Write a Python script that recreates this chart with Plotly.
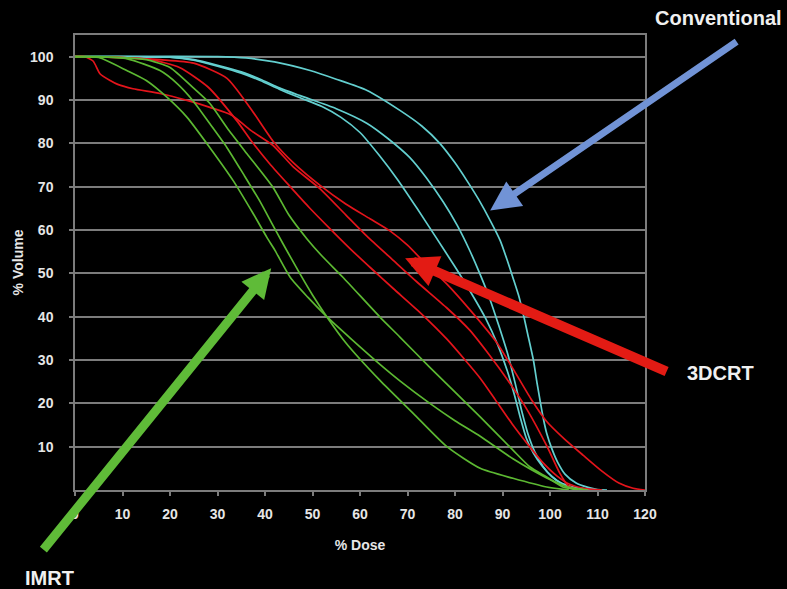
import plotly.graph_objects as go

# ---------------- data ----------------
x_ticks = [0, 10, 20, 30, 40, 50, 60, 70, 80, 90, 100, 110, 120]
y_ticks = [10, 20, 30, 40, 50, 60, 70, 80, 90, 100]

# Conventional (cyan)
conv1_dose = [0, 30, 36, 42, 49.5, 55, 61.5, 68.4, 73, 76.8, 80, 82.5, 85, 87.5, 89.5, 91, 92.2, 93.5, 94.5, 95.3, 96.5, 97.3, 97.9, 98.6, 99.3, 100.5, 101.7, 103.2, 105.5, 108, 110, 112]
conv1_vol = [100, 100, 99.7, 98.8, 96.8, 94.8, 92.2, 87.6, 84, 80, 75.5, 71.4, 67, 62, 57.6, 53, 49, 44.5, 40, 36, 30, 24.5, 20.7, 16.5, 13.1, 9.2, 6.2, 3.6, 1.6, 0.6, 0.1, 0]
conv2_dose = [0, 20, 25, 30, 35, 39, 43, 47.4, 55, 61.5, 66, 70.5, 74, 77.5, 80.5, 83, 85.2, 87.2, 89.2, 91.2, 92.7, 94.1, 95.4, 96.8, 98.5, 100.5, 102.5, 105, 108.4, 110]
conv2_vol = [100, 99.9, 99.3, 98, 96.5, 94.8, 92.8, 91, 88, 84.6, 81, 76.7, 72, 66.5, 61, 55.5, 50, 44.5, 38, 31, 24.5, 18, 12.8, 8.8, 5.5, 3, 1.5, 0.6, 0.1, 0]
conv3_dose = [0, 20, 25, 30, 35, 39, 43, 47.4, 52, 56, 60, 64, 68, 72, 76, 80, 83.5, 86.5, 89, 91, 92.5, 93.8, 95, 96.5, 98.3, 100.3, 102.3, 105, 108.4, 110]
conv3_vol = [100, 99.9, 99.2, 97.8, 96.2, 94.5, 92.5, 90.5, 88.5, 86, 82.5, 77.3, 71.5, 65, 58.3, 51.5, 45.3, 39.5, 33.5, 27.5, 22, 16.5, 12, 8.5, 5.6, 3.2, 1.6, 0.6, 0.1, 0]

# 3DCRT (red)
crt1_dose = [0, 10, 16, 22, 28, 34, 37.5, 41.2, 45.3, 49.3, 53.5, 58, 62.5, 67, 72.6, 78.3, 85.3, 88.5, 92, 95.5, 98.5, 101.5, 104, 107, 111]
crt1_vol = [100, 99.8, 99.3, 97.5, 93, 85.3, 80, 75, 70, 65.2, 60.5, 55.6, 51, 46.5, 41, 34.8, 25.8, 20.8, 15.3, 10.3, 6.3, 3.2, 1.4, 0.4, 0]
crt2_dose = [0, 10, 18, 25, 32, 37, 41.7, 46, 51.6, 57, 62.1, 66.3, 70, 74, 78.3, 83.2, 88.8, 92.2, 96, 99.3, 103, 107, 111, 114.5, 117.5, 120]
crt2_vol = [100, 99.8, 99.3, 98.5, 95, 88, 80.5, 75.5, 70.3, 66, 62.6, 59.8, 56.5, 52, 47.5, 41.5, 34, 28, 21, 15.8, 11.8, 8, 4.3, 1.6, 0.4, 0]
crt3_dose = [0, 2, 3.8, 5.3, 7.4, 9, 12.2, 17.9, 23.6, 28.4, 33, 37, 41.7, 46, 51.6, 57, 62, 67, 72, 78.3, 83, 87, 91, 95.2, 99.4, 102, 103.8, 106]
crt3_vol = [100, 100, 99, 96, 94.5, 93.6, 92.6, 91.5, 89.9, 88.3, 86.5, 83, 79.5, 74.5, 69.5, 63.5, 58, 53, 48, 42, 37, 31.5, 25.5, 18.5, 10, 4, 1, 0]

# IMRT (green)
imrt1_dose = [0, 5, 10.9, 15, 19.4, 23.6, 28.4, 33.3, 37.5, 40.4, 42.1, 45.3, 49, 53, 58, 64.2, 68.4, 74.7, 80, 85.3, 92.2, 99.3, 104, 108]
imrt1_vol = [100, 99.8, 96.8, 94.5, 90.6, 86, 79, 71.4, 63.8, 58.3, 55.3, 49.1, 44.5, 40, 35, 29, 25.2, 20, 16, 12.4, 7.2, 2.8, 0.6, 0]
imrt2_dose = [0, 5, 11, 17.9, 21.5, 24.8, 28.4, 32, 35.4, 39, 41.7, 43.7, 47.4, 50, 53, 57, 64.2, 71.2, 78.3, 85.3, 92.2, 99.3, 104]
imrt2_vol = [100, 100, 99.5, 96.8, 93.8, 89.9, 84.5, 79, 73, 66.5, 61, 57, 49.8, 45, 40, 34, 25.3, 17.7, 10, 5, 2.7, 0.7, 0]
imrt3_dose = [0, 10, 15, 20, 24.8, 28.4, 32, 36.2, 41.7, 45, 48.8, 52, 56.4, 64.2, 68.4, 74.7, 85.3, 92.2, 95.8, 99.3, 102.7, 106]
imrt3_vol = [100, 99.8, 99.3, 97.5, 92.9, 89.2, 83.6, 77.6, 69.8, 63.5, 58, 54, 49.1, 39.9, 35.3, 28.3, 16.9, 9.2, 5.3, 3, 0.7, 0]

CYAN = "#63cfcf"
RED = "#e3141b"
GREEN = "#5cb832"

fig = go.Figure()
series = [
    (conv1_dose, conv1_vol, CYAN), (conv2_dose, conv2_vol, CYAN), (conv3_dose, conv3_vol, CYAN),
    (crt1_dose, crt1_vol, RED), (crt2_dose, crt2_vol, RED), (crt3_dose, crt3_vol, RED),
    (imrt1_dose, imrt1_vol, GREEN), (imrt2_dose, imrt2_vol, GREEN), (imrt3_dose, imrt3_vol, GREEN),
]
for xs, ys, col in series:
    fig.add_trace(go.Scatter(x=xs, y=ys, mode="lines",
                             line=dict(color=col, width=1.7, shape="spline", smoothing=0.6),
                             showlegend=False, hoverinfo="skip"))

FONT = "Liberation Sans, Arial, sans-serif"
TXT = "#e6e6e6"
GRID = "#7c7c7c"

L, R, T, B = 75, 142, 35, 99
W, H = 787, 589
PW, PH = W - L - R, H - T - B


def px_to_paper(px, py):
    return (px - L) / PW, (H - B - py) / PH


fig.update_layout(
    width=W, height=H,
    paper_bgcolor="#000000", plot_bgcolor="#000000",
    margin=dict(l=L, r=R, t=T, b=B),
    font=dict(family=FONT, color=TXT, size=14),
    showlegend=False,
    xaxis=dict(range=[0, 120], tickvals=x_ticks, ticktext=[str(v) for v in x_ticks],
               showgrid=False, zeroline=False, showline=True, linecolor=GRID, linewidth=1.5,
               mirror=True, ticks="outside", ticklen=4, tickcolor=GRID, tickwidth=1.5,
               tickfont=dict(family=FONT, size=14, color=TXT, weight="bold"),
               ticklabelstandoff=6,
               title=dict(text="<b>% Dose</b>", font=dict(size=14, color=TXT), standoff=20)),
    yaxis=dict(range=[0, 105], tickvals=y_ticks, ticktext=[str(v) for v in y_ticks],
               showgrid=True, gridcolor=GRID, gridwidth=1.5, zeroline=False,
               showline=True, linecolor=GRID, linewidth=1.5, mirror=True,
               ticks="outside", ticklen=4, tickcolor=GRID, tickwidth=1.5,
               tickfont=dict(family=FONT, size=14, color=TXT, weight="bold"),
               ticklabelstandoff=13,
               title=dict(text="<b>% Volume</b>", font=dict(size=14, color=TXT), standoff=3)),
)

# arrows (tip in data coords, tail as pixel offset)
fig.add_annotation(x=87.4, y=64.5, xref="x", yref="y", ax=248, ay=-170, axref="pixel", ayref="pixel",
                   text="", showarrow=True, arrowhead=2, arrowsize=0.85, arrowwidth=7, arrowcolor="#7193d6")
fig.add_annotation(x=69.5, y=53.5, xref="x", yref="y", ax=263, ay=114, axref="pixel", ayref="pixel",
                   text="", showarrow=True, arrowhead=2, arrowsize=0.65, arrowwidth=10, arrowcolor="#e31b14")
fig.add_annotation(x=41.3, y=51.2, xref="x", yref="y", ax=-229, ay=283, axref="pixel", ayref="pixel",
                   text="", showarrow=True, arrowhead=2, arrowsize=0.65, arrowwidth=9, arrowcolor="#5fbb38")

# labels
for txt, (px, py) in [("Conventional", (718, 18)), ("3DCRT", (720, 373)), ("IMRT", (49, 578))]:
    xp, yp = px_to_paper(px, py)
    fig.add_annotation(x=xp, y=yp, xref="paper", yref="paper", text="<b>%s</b>" % txt,
                       showarrow=False, font=dict(size=20, color="#f0f0f0", family=FONT),
                       xanchor="center", yanchor="middle")

fig.write_html("out.html", config={"displayModeBar": False},
               post_script="document.body.style.margin='0';document.body.style.background='#000';")
